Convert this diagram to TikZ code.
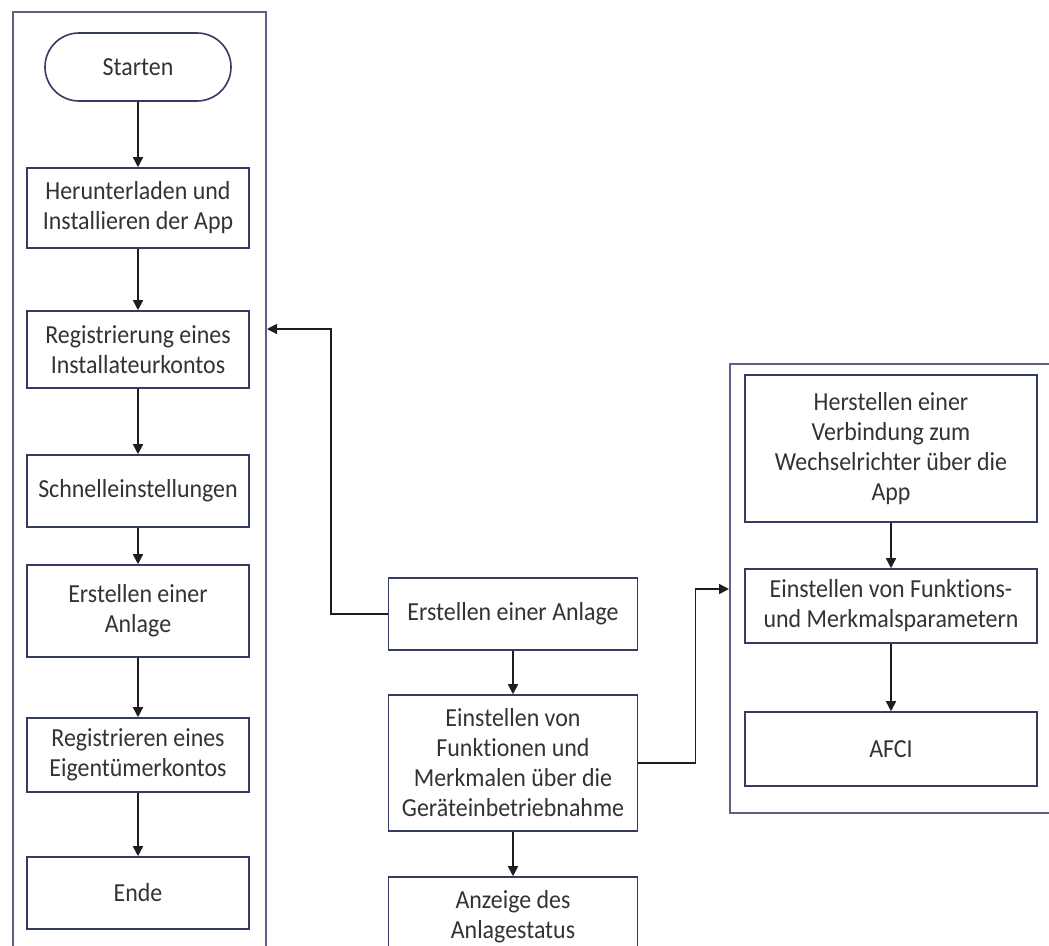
\documentclass[tikz,border=0pt]{standalone}
\usepackage{fontspec}
\setmainfont[FakeStretch=0.92,Ligatures={NoCommon}]{Carlito}
\usetikzlibrary{arrows.meta}
\definecolor{boxc}{HTML}{353C62}
\definecolor{contc}{HTML}{5A6284}
\definecolor{txt}{HTML}{333333}
\definecolor{arrc}{HTML}{1E1E1E}
\tikzset{
  box/.style={draw=boxc, line width=1.6pt, fill=white, align=center, text=txt,
    font=\fontsize{26pt}{30pt}\selectfont, inner sep=2pt},
  lbox/.style={box, minimum width=222pt},
  mbox/.style={box, minimum width=249pt},
  rbox/.style={box, minimum width=292pt},
  cont/.style={draw=contc, line width=2pt, minimum width=0pt, inner sep=0pt},
  arr/.style={draw=arrc, line width=1.6pt, -{Triangle[length=10pt,width=10pt]}},
}
\begin{document}
\begin{tikzpicture}[x=1pt,y=-1pt]
\clip (0,0) rectangle (1049,945);
\fill[white] (0,0) rectangle (1049,945);
% containers
\node[cont, minimum width=253pt, minimum height=960pt] (leftC) at (139.5,492) {};
\node[cont, minimum width=340pt, minimum height=449pt] (rightC) at (900,588.5) {};
% left column
\node[box, rounded corners=34pt, minimum width=186pt, minimum height=68pt] (start) at (138,67) {Starten};
\node[lbox, minimum height=80pt] (b1) at (138,208) {Herunterladen und\\Installieren der App};
\node[lbox, minimum height=77pt] (b2) at (138,349.5) {Registrierung eines\\Installateurkontos};
\node[lbox, minimum height=72pt] (b3) at (138,491) {Schnelleinstellungen};
\node[lbox, minimum height=92pt] (b4) at (138,611) {Erstellen einer\\Anlage};
\node[lbox, minimum height=74pt] (b5) at (138,755) {Registrieren eines\\Eigentümerkontos};
\node[lbox, minimum height=72pt] (b6) at (138,893) {Ende};
% middle column
\node[mbox, minimum height=72pt] (m1) at (513,614) {Erstellen einer Anlage};
\node[mbox, minimum height=136pt] (m2) at (513,763) {Einstellen von\\Funktionen und\\Merkmalen über die\\Geräteinbetriebnahme};
\node[mbox, minimum height=82pt, text depth=8pt] (m3) at (513,918) {Anzeige des\\Anlagestatus};
% right column
\node[rbox, minimum height=147pt] (r1) at (891,448.5) {Herstellen einer\\Verbindung zum\\Wechselrichter über die\\App};
\node[rbox, minimum height=74pt] (r2) at (891,606) {Einstellen von Funktions-\\und Merkmalsparametern};
\node[rbox, minimum height=74pt] (r3) at (891,749) {AFCI};
% coordinates
\coordinate (inL) at (leftC.east |- 0,329);
\coordinate (inR) at (rightC.west |- 0,589);
% arrows
\draw[arr] (start) -- (b1);
\draw[arr] (b1) -- (b2);
\draw[arr] (b2) -- (b3);
\draw[arr] (b3) -- (b4);
\draw[arr] (b4) -- (b5);
\draw[arr] (b5) -- (b6);
\draw[arr] (m1) -- (m2);
\draw[arr] (m2) -- (m3);
\draw[arr] (r1) -- (r2);
\draw[arr] (r2) -- (r3);
\draw[arr] (m1.west) -- ++(-57,0) |- (inL);
\draw[arr] (m2.east) -- ++(57,0) |- (inR);
\end{tikzpicture}
\end{document}
